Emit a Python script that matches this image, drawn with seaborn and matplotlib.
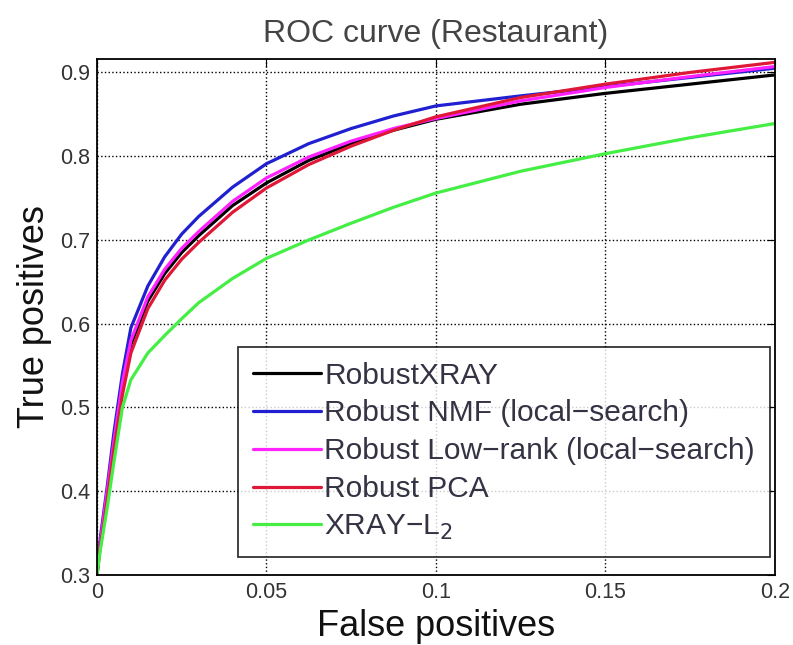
import numpy as np
import pandas as pd
import matplotlib
matplotlib.use("Agg")
import matplotlib.pyplot as plt
import seaborn as sns

fpr = [0, 0.001, 0.002, 0.003, 0.005, 0.0075, 0.01, 0.015, 0.02, 0.025, 0.03, 0.04, 0.05,
       0.0625, 0.075, 0.0875, 0.1, 0.125, 0.15, 0.175, 0.2]
tpr_robustxray = [0.30, 0.34, 0.365, 0.395, 0.455, 0.525, 0.575, 0.627, 0.66, 0.685, 0.705, 0.741, 0.768,
                  0.795, 0.815, 0.831, 0.844, 0.862, 0.875, 0.886, 0.897]
tpr_nmf = [0.30, 0.345, 0.375, 0.405, 0.47, 0.54, 0.595, 0.645, 0.68, 0.707, 0.728, 0.763, 0.791,
           0.815, 0.833, 0.848, 0.860, 0.872, 0.883, 0.894, 0.905]
tpr_lowrank = [0.30, 0.34, 0.37, 0.40, 0.46, 0.53, 0.58, 0.632, 0.665, 0.69, 0.71, 0.746, 0.774,
               0.799, 0.818, 0.833, 0.845, 0.866, 0.882, 0.895, 0.907]
tpr_pca = [0.30, 0.335, 0.36, 0.39, 0.45, 0.515, 0.565, 0.618, 0.652, 0.677, 0.697, 0.733, 0.762,
           0.79, 0.812, 0.831, 0.847, 0.870, 0.886, 0.900, 0.912]
tpr_xrayl2 = [0.30, 0.33, 0.355, 0.38, 0.435, 0.50, 0.533, 0.565, 0.586, 0.606, 0.625, 0.654, 0.678,
              0.70, 0.72, 0.739, 0.756, 0.782, 0.803, 0.822, 0.839]

labels = ["RobustXRAY", "Robust NMF (local\u2212search)", "Robust Low\u2212rank (local\u2212search)",
          "Robust PCA", "XRAY\u2212L$_2$"]
colors = ["#000000", "#2020d0", "#ff22ff", "#e01838", "#44ee44"]
series = [tpr_robustxray, tpr_nmf, tpr_lowrank, tpr_pca, tpr_xrayl2]

rows = []
for lab, ys in zip(labels, series):
    for x, y in zip(fpr, ys):
        rows.append({"fpr": x, "tpr": y, "method": lab})
df = pd.DataFrame(rows)

sns.set_style("white")
plt.rcParams["font.family"] = ["Liberation Sans", "DejaVu Sans"]

fig = plt.figure(figsize=(7.93, 6.45), dpi=100)
ax = fig.add_axes([0.1223, 0.1085, 0.8547, 0.80])

sns.lineplot(data=df, x="fpr", y="tpr", hue="method", hue_order=labels,
             palette=dict(zip(labels, colors)), linewidth=2.3, ax=ax, legend=True)

ax.set_xlim(0, 0.2)
ax.set_ylim(0.3, 0.916)
ax.set_xticks([0, 0.05, 0.1, 0.15, 0.2])
ax.set_xticklabels(["0", "0.05", "0.1", "0.15", "0.2"])
ax.set_yticks([0.3, 0.4, 0.5, 0.6, 0.7, 0.8, 0.9])
ax.set_yticklabels(["0.3", "0.4", "0.5", "0.6", "0.7", "0.8", "0.9"])
ax.grid(True, linestyle=":", color="black", linewidth=1)
ax.tick_params(direction="in", length=6, top=True, right=True, labelsize=15.5,
               colors="black", labelcolor="#333333", pad=5)
for s in ax.spines.values():
    s.set_color("black")
    s.set_linewidth(1.3)

ax.set_xlabel("False positives", fontsize=26, labelpad=4, color="#111111")
ax.set_ylabel("True positives", fontsize=26, labelpad=6, color="#111111")
ax.set_title("ROC curve (Restaurant)", fontsize=23, pad=12, color="#444444")

leg = ax.legend(loc="lower right", bbox_to_anchor=(0.993, 0.035), fontsize=21.5, frameon=True,
                fancybox=False, edgecolor="black", handlelength=2.3, handletextpad=0.1,
                labelspacing=0.33, borderpad=0.5, borderaxespad=0.0)
leg.get_frame().set_linewidth(1.3)
for t in leg.get_texts():
    t.set_color("#333344")

fig.savefig("out.png", dpi=100)
